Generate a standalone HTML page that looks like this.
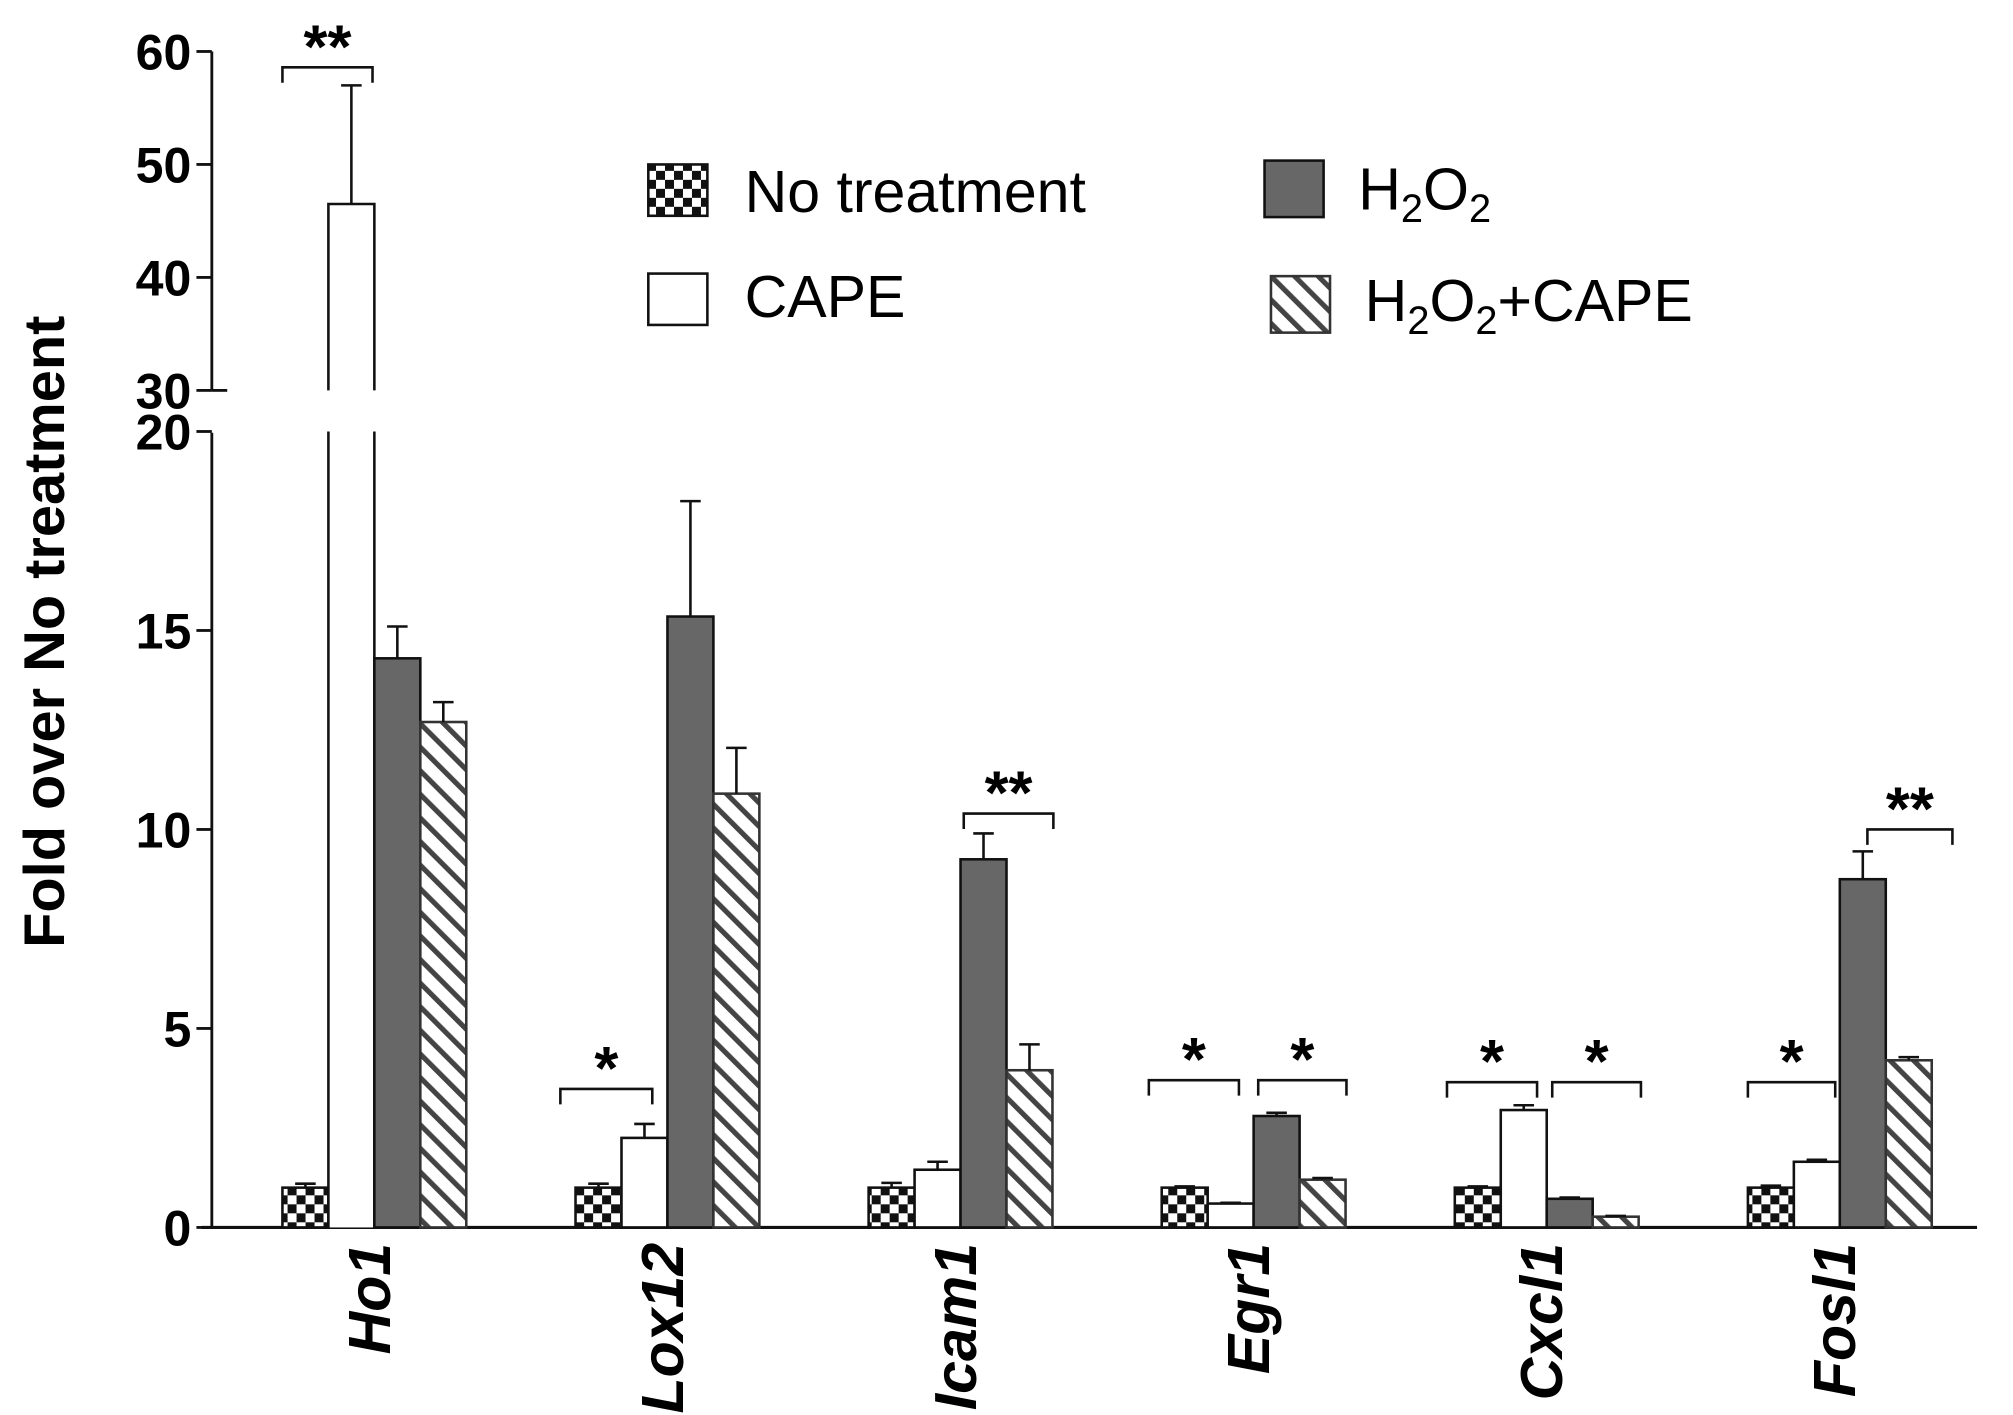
<!DOCTYPE html>
<html><head><meta charset="utf-8"><style>html,body{margin:0;padding:0;background:#fff}svg{display:block}</style></head>
<body>
<svg width="2013" height="1415" viewBox="0 0 1568 1102" xmlns="http://www.w3.org/2000/svg" font-family="Liberation Sans, Arial, sans-serif">
<defs>
<pattern id="checker" width="14" height="14" patternUnits="userSpaceOnUse">
<rect width="14" height="14" fill="#fff"/><rect width="7" height="7" fill="#111"/><rect x="7" y="7" width="7" height="7" fill="#111"/>
</pattern>
<pattern id="hatch" width="13" height="13" patternUnits="userSpaceOnUse" patternTransform="rotate(-45)">
<rect width="13" height="13" fill="#fff"/><line x1="0" y1="0" x2="0" y2="13" stroke="#444" stroke-width="8"/>
</pattern>
</defs>
<g id="plot"></g>
<text transform="translate(50,492) rotate(-90)" text-anchor="middle" font-weight="bold" font-size="45">Fold over No treatment</text>
<g font-size="46">
<rect x="505" y="128" width="46" height="40" fill="url(#checker)" stroke="#111" stroke-width="2"/>
<text x="580" y="165">No treatment</text>
<rect x="505" y="213" width="46" height="40" fill="#fff" stroke="#111" stroke-width="2"/>
<text x="580" y="247">CAPE</text>
<rect x="985" y="125" width="46" height="44" fill="#676767" stroke="#111" stroke-width="2"/>
<text x="1058" y="163">H<tspan font-size="31" dy="10">2</tspan><tspan dy="-10">O</tspan><tspan font-size="31" dy="10">2</tspan></text>
<rect x="990" y="215" width="46" height="44" fill="url(#hatch)" stroke="#333" stroke-width="2"/>
<text x="1063" y="250">H<tspan font-size="31" dy="10">2</tspan><tspan dy="-10">O</tspan><tspan font-size="31" dy="10">2</tspan><tspan dy="-10">+CAPE</tspan></text>
</g>
</svg>
<script>
const genes = ["Ho1","Lox12","Icam1","Egr1","Cxcl1","Fosl1"];
const noTreat = [1.0,1.0,1.0,1.0,1.0,1.0];
const noTreatErr = [0.1,0.1,0.12,0.03,0.03,0.05];
const cape = [46.5,2.25,1.45,0.6,2.95,1.65];
const capeErr = [10.5,0.35,0.2,0.02,0.12,0.05];
const h2o2 = [14.3,15.35,9.25,2.8,0.72,8.75];
const h2o2Err = [0.8,2.9,0.65,0.08,0.03,0.7];
const combo = [12.7,10.9,3.95,1.2,0.27,4.2];
const comboErr = [0.5,1.15,0.65,0.04,0.02,0.08];
const lowTicks = [0,5,10,15,20];
const highTicks = [30,40,50,60];
// significance brackets: group, start/end in bar-width units from group start, level value, label
const sigGroup = [0,1,2,3,3,4,4,5,5];
const sigFrom = [0,-0.33,2.07,-0.28,2.1,-0.17,2.12,0,2.6];
const sigTo = [1.96,1.67,4.02,1.68,4.02,1.79,4.05,1.9,4.45];
const sigLevel = [58.6,3.48,10.4,3.7,3.7,3.65,3.65,3.65,10.0];
const sigLabel = ["**","*","**","*","*","*","*","*","**"];

const NS="http://www.w3.org/2000/svg";
const plot=document.getElementById('plot');
const AX=165, BASE=956, LOWPX=31, HIGH0=304, HIGHPX=8.8;
function y(v){ if(v<=20) return BASE - v*LOWPX; return HIGH0 - (v-30)*HIGHPX; }
const G0=220, GSTEP=228.3, BW=35.8;
function x(g,b){ return G0 + g*GSTEP + b*BW; }
function el(tag,attrs,parent){const e=document.createElementNS(NS,tag);for(const k in attrs)e.setAttribute(k,attrs[k]);(parent||plot).appendChild(e);return e;}

let a=el('line',{x1:AX,y1:40,x2:AX,y2:304,stroke:'#111','stroke-width':2.2});


a=el('line',{x1:AX,y1:337,x2:AX,y2:BASE,stroke:'#111','stroke-width':2.2});


a=el('line',{x1:AX-8,y1:BASE,x2:1540,y2:BASE,stroke:'#111','stroke-width':2.5});


lowTicks.concat(highTicks).forEach(t=>{
  const yy=y(t);
  let tk=el('line',{x1:AX-12,y1:yy,x2:AX,y2:yy,stroke:'#111','stroke-width':2.2});
  
  
  let tl=el('text',{x:AX-16,y:yy+14,'text-anchor':'end','font-size':39,'font-weight':'bold'});
  tl.textContent=t;
  
  
});
el('line',{x1:AX,y1:304,x2:AX+12,y2:304,stroke:'#111','stroke-width':2.2});

const series=[noTreat,cape,h2o2,combo];
const errs=[noTreatErr,capeErr,h2o2Err,comboErr];
const fills=['url(#checker)','#fff','#676767','url(#hatch)'];
const strokes=['#111','#111','#111','#333'];
const names=['no-treatment','cape','h2o2','h2o2-cape'];
genes.forEach((g,gi)=>{
  series.forEach((s,si)=>{
    const v=s[gi], e=errs[si][gi], x0=x(gi,si), xc=x0+BW/2;
    if(v>20){
      let r1=el('rect',{x:x0,y:y(20),width:BW,height:BASE-y(20),fill:fills[si],stroke:'none'});
      
      
      el('line',{x1:x0,y1:y(20),x2:x0,y2:BASE,stroke:strokes[si],'stroke-width':2});
      el('line',{x1:x0+BW,y1:y(20),x2:x0+BW,y2:BASE,stroke:strokes[si],'stroke-width':2});
      let r2=el('rect',{x:x0,y:y(v),width:BW,height:y(30)-y(v),fill:fills[si],stroke:'none'});
      
      
      el('polyline',{points:`${x0},${y(30)} ${x0},${y(v)} ${x0+BW},${y(v)} ${x0+BW},${y(30)}`,fill:'none',stroke:strokes[si],'stroke-width':2});
    } else {
      let r=el('rect',{x:x0,y:y(v),width:BW,height:BASE-y(v),fill:fills[si],stroke:strokes[si],'stroke-width':2});
      
      
    }
    const yt=y(v+e);
    let eb=el('path',{d:`M${xc},${y(v)} V${yt} M${xc-8},${yt} H${xc+8}`,stroke:'#111','stroke-width':2,fill:'none'});
    
    
  });
  const lx=x(gi,2);
  let lab=el('text',{transform:`translate(${lx+12},968) rotate(-90)`,'text-anchor':'end','font-size':46,'font-weight':'bold','font-style':'italic'});
  lab.textContent=g;
  
  
});
sigGroup.forEach((gi,i)=>{
  const x1=x(gi,sigFrom[i]), x2=x(gi,sigTo[i]);
  const yy=y(sigLevel[i]);
  let b=el('polyline',{points:`${x1},${yy+12} ${x1},${yy} ${x2},${yy} ${x2},${yy+12}`,fill:'none',stroke:'#111','stroke-width':2});
  
  
  let s=el('text',{x:(x1+x2)/2,y:yy,'text-anchor':'middle','font-size':48,'font-weight':'bold'});
  s.textContent=sigLabel[i];
  
  
});
</script>
</body></html>
